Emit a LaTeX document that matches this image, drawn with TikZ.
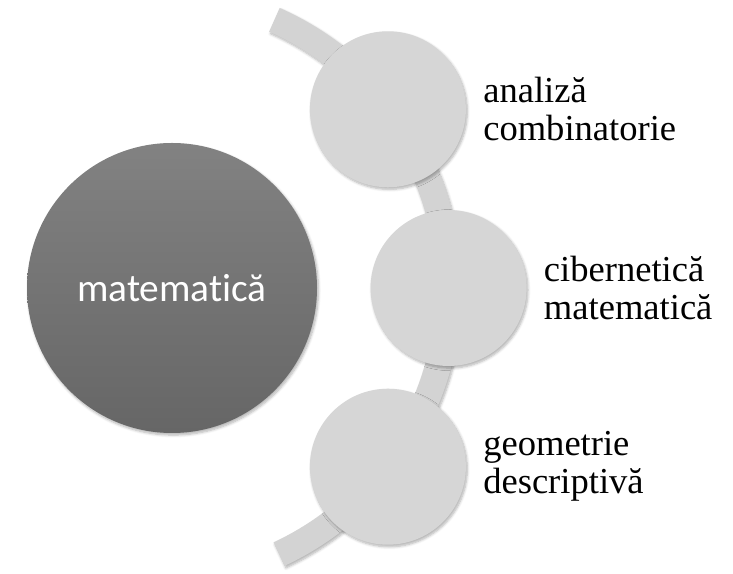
\documentclass[tikz,border=0pt]{standalone}
\usepackage{fontspec}
\setmainfont{Liberation Serif}
\newfontfamily\topicfont[Ligatures=NoCommon]{Carlito}
\usetikzlibrary{positioning,calc,shadows.blur}
\definecolor{topictop}{RGB}{130,130,130}
\definecolor{topicbottom}{RGB}{102,102,102}
\definecolor{itemgray}{RGB}{214,214,214}
\definecolor{bandgray}{RGB}{211,211,211}
\begin{document}
\begin{tikzpicture}[soft/.style={blur shadow={shadow xshift=1pt, shadow yshift=-1.5pt, shadow blur steps=6, shadow opacity=30}}, topic/.style={circle, minimum size=7.25cm, inner sep=0pt, top color=topictop, bottom color=topicbottom, text=white, font=\topicfont\fontsize{28}{30}\selectfont, soft}, item/.style={circle, minimum size=3.9cm, inner sep=0pt, fill=itemgray, soft}, desc/.style={inner sep=0pt, align=left, font=\fontsize{26}{27}\selectfont}]
		\useasboundingbox (0, 0) rectangle (18.325, 14.35);
		\coordinate (o) at (3.875, 7.15);
		% band behind the three circles
		\fill[bandgray, soft] ($(o)+(-65:7.015)$) arc[start angle=-65, end angle=66, radius=7.015] -- ($(o)+(66:7.665)$) arc[start angle=66, end angle=-65, radius=7.665] -- cycle;
		\node[topic] (0) at (4.3, 7.15) {matematică};
		\node[item] (1) at ($(o)+(37.5:7.34)$) {};
		\node[item] (2) at ($(o)+(0:7.34)$) {};
		\node[item] (3) at ($(o)+(-37.5:7.34)$) {};
		\node[desc, right=0.42cm of 1] (t1) {analiză\\combinatorie};
		\node[desc, right=0.42cm of 2] (t2) {cibernetică\\matematică};
		\node[desc, right=0.42cm of 3] (t3) {geometrie\\descriptivă};
	\end{tikzpicture}
\end{document}
